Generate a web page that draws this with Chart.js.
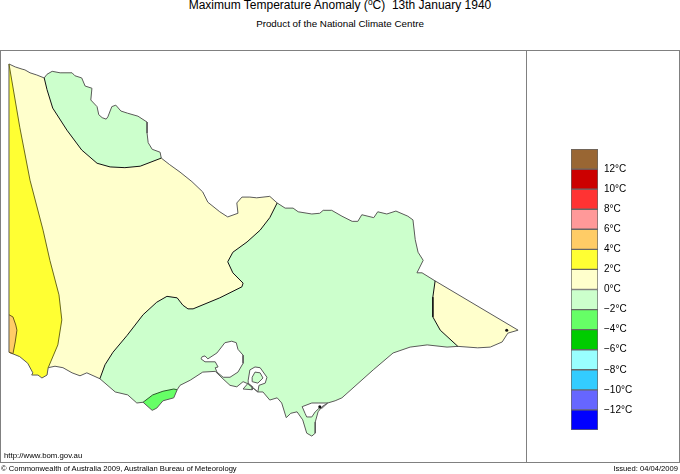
<!DOCTYPE html>
<html>
<head>
<meta charset="utf-8">
<script src="https://cdn.jsdelivr.net/npm/chart.js@4/dist/chart.umd.min.js"></script>
<style>
  html, body { margin: 0; padding: 0; background: #fff; width: 680px; height: 474px; overflow: hidden; }
  body { position: relative; font-family: "Liberation Sans", Arial, sans-serif; color: #000; }
  .txt { position: absolute; white-space: nowrap; line-height: 1; }
  .txt sup { font-size: 70%; line-height: 0; vertical-align: 4px; }
  #frame { position: absolute; left: 0; top: 50px; width: 678px; height: 411px; border: 1px solid #808080; }
  #divider { position: absolute; left: 526px; top: 50px; width: 1px; height: 412px; background: #808080; }
  canvas { position: absolute; }
</style>
</head>
<body>
<div class="txt" style="left:0;width:680px;text-align:center;top:-1px;font-size:12px">Maximum Temperature Anomaly (<sup>o</sup>C)&nbsp; 13th January 1940</div>
<div class="txt" style="left:0;width:680px;text-align:center;top:19px;font-size:9.8px">Product of the National Climate Centre</div>
<div id="frame"></div>
<div id="divider"></div>
<canvas id="mapChart" width="527" height="413" style="left:0;top:50px"></canvas>
<canvas id="keyChart" width="149" height="305" style="left:530px;top:137px"></canvas>
<div class="txt" style="left:4px;top:452px;font-size:7.8px">http://www.bom.gov.au</div>
<div class="txt" style="left:1px;top:465px;font-size:7.6px">© Commonwealth of Australia 2009, Australian Bureau of Meteorology</div>
<div class="txt" style="right:2px;top:465px;font-size:7.6px">Issued: 04/04/2009</div>
<script>
// Outline of the state, [lon, lat], cut where the anomaly contours meet it
const borderNorthWest = [[141.00,-34.00],[141.11,-34.04],[141.23,-34.07],[141.28,-34.08],[141.37,-34.12],[141.49,-34.15],[141.62,-34.19]];
const borderMallee = [[141.62,-34.19],[141.67,-34.14],[141.76,-34.10],[141.90,-34.12],[142.11,-34.12],[142.16,-34.16],[142.28,-34.19],[142.34,-34.30],[142.46,-34.33],[142.44,-34.49],[142.55,-34.58],[142.58,-34.69],[142.64,-34.73],[142.71,-34.75],[142.74,-34.72],[142.81,-34.58],[142.88,-34.56],[142.97,-34.64],[143.09,-34.67],[143.27,-34.71],[143.43,-34.79],[143.43,-34.94],[143.45,-35.07],[143.52,-35.16],[143.66,-35.20],[143.68,-35.28]];
const borderMurray = [[143.68,-35.28],[143.83,-35.37],[144.01,-35.47],[144.22,-35.60],[144.41,-35.74],[144.50,-35.88],[144.71,-36.01],[144.85,-36.08],[145.03,-36.03],[145.01,-35.89],[145.10,-35.81],[145.24,-35.81],[145.36,-35.82],[145.59,-35.80],[145.72,-35.89]];
const borderNorthEast = [[145.72,-35.89],[145.86,-35.96],[146.00,-35.96],[146.09,-36.01],[146.33,-36.04],[146.47,-36.03],[146.53,-35.99],[146.68,-35.99],[146.86,-36.07],[147.04,-36.14],[147.14,-36.14],[147.21,-36.05],[147.42,-36.09],[147.49,-36.01],[147.65,-36.04],[147.81,-36.00],[148.02,-36.07],[148.11,-36.12],[148.15,-36.39],[148.20,-36.56],[148.29,-36.67],[148.18,-36.84],[148.27,-36.84],[148.50,-36.95]];
const borderGippsEast = [[148.50,-36.95],[149.96,-37.62],[149.78,-37.66],[149.68,-37.78],[149.47,-37.85],[149.25,-37.86],[148.90,-37.84]];
const coastCentral = [[148.90,-37.84],[148.71,-37.85],[148.36,-37.82],[148.06,-37.85],[147.76,-37.93],[147.41,-38.16],[146.86,-38.54],[146.74,-38.58],[146.61,-38.61],[146.51,-38.66],[146.44,-38.73],[146.39,-38.87],[146.39,-39.02],[146.33,-39.06],[146.24,-39.02],[146.17,-38.84],[146.07,-38.73],[145.96,-38.75],[145.88,-38.81],[145.80,-38.61],[145.72,-38.54],[145.59,-38.57],[145.47,-38.46],[145.38,-38.46],[145.21,-38.35],[145.12,-38.32],[145.01,-38.39],[144.89,-38.37],[144.75,-38.27],[144.63,-38.18],[144.41,-38.19],[144.19,-38.30],[144.01,-38.37],[143.96,-38.43],[143.90,-38.54],[143.71,-38.58],[143.60,-38.68],[143.52,-38.71],[143.36,-38.60],[143.25,-38.61],[143.09,-38.50],[142.87,-38.46],[142.60,-38.28]];
const coastWestern = [[142.60,-38.28],[142.37,-38.20],[142.25,-38.24],[142.11,-38.20],[141.95,-38.13],[141.81,-38.11],[141.69,-38.13]];
const coastPortland = [[141.69,-38.13],[141.67,-38.23],[141.58,-38.27],[141.51,-38.23],[141.40,-38.23],[141.42,-38.20],[141.33,-38.07],[141.19,-37.98],[141.00,-37.92]];

// Anomaly contours
const contourMallee = [[141.62,-34.19],[141.67,-34.35],[141.77,-34.60],[142.02,-34.90],[142.28,-35.17],[142.55,-35.35],[142.78,-35.40],[143.04,-35.41],[143.31,-35.39],[143.68,-35.28]];
const contourCentral = [[145.72,-35.89],[145.59,-36.09],[145.42,-36.26],[145.19,-36.42],[144.94,-36.56],[144.85,-36.69],[144.94,-36.84],[145.12,-36.98],[145.10,-37.03],[144.71,-37.18],[144.24,-37.33],[144.15,-37.33],[144.06,-37.28],[143.96,-37.18],[143.78,-37.16],[143.60,-37.24],[143.36,-37.41],[143.08,-37.69],[142.83,-37.92],[142.69,-38.09],[142.60,-38.28]];
const contourEast = [[148.50,-36.95],[148.46,-37.17],[148.46,-37.44],[148.59,-37.62],[148.90,-37.84]];
const contourWest = [[141.00,-34.00],[141.19,-34.86],[141.37,-35.58],[141.60,-36.26],[141.72,-36.67],[141.88,-37.14],[141.93,-37.48],[141.86,-37.82],[141.69,-38.13]];
const contourPortland = [[141.00,-37.41],[141.07,-37.44],[141.12,-37.55],[141.14,-37.62],[141.11,-37.78],[141.07,-37.94],[141.00,-37.92]];
const contourOtway = [[143.36,-38.60],[143.53,-38.50],[143.71,-38.45],[143.90,-38.42],[143.96,-38.43]];
const coastOtway = [[143.96,-38.43],[143.90,-38.54],[143.71,-38.58],[143.60,-38.68],[143.52,-38.71],[143.36,-38.60]];

// Bays and islands
const portPhillip = [[144.40,-37.98],[144.45,-37.97],[144.50,-38.01],[144.66,-37.93],[144.80,-37.79],[144.92,-37.77],[145.00,-37.79],[145.03,-37.88],[145.12,-37.96],[145.12,-38.07],[145.03,-38.19],[144.89,-38.26],[144.77,-38.26],[144.66,-38.19],[144.63,-38.13],[144.68,-38.12],[144.63,-38.05],[144.45,-38.05],[144.38,-38.01],[144.40,-37.98]];
const westernPort = [[145.21,-38.30],[145.24,-38.16],[145.33,-38.12],[145.42,-38.13],[145.54,-38.26],[145.51,-38.34],[145.40,-38.37],[145.38,-38.46],[145.21,-38.35],[145.21,-38.30]];
const phillipIsland = [[145.12,-38.42],[145.21,-38.34],[145.29,-38.39],[145.28,-38.43],[145.12,-38.42]];
const frenchIsland = [[145.28,-38.26],[145.33,-38.19],[145.42,-38.20],[145.47,-38.27],[145.38,-38.34],[145.28,-38.32],[145.28,-38.26]];
const cornerInlet = [[146.16,-38.66],[146.33,-38.61],[146.44,-38.61],[146.61,-38.61],[146.51,-38.68],[146.46,-38.68],[146.39,-38.73],[146.33,-38.80],[146.24,-38.80],[146.21,-38.75],[146.16,-38.66]];
const smallIslands = [[146.47,-38.66],[149.76,-37.62]];

// Colour key
const keyLow = [12, 10, 8, 6, 4, 2, 0, -2, -4, -6, -8, -10, -12, -14];
const keyColours = ['#996633', '#CC0000', '#FF3333', '#FF9999', '#FFCC66', '#FFFF33', '#FFFFCC', '#CCFFCC', '#66FF66', '#00CC00', '#99FFFF', '#33CCFF', '#6666FF', '#0000FF'];

const CREAM = '#FFFFCC', PALE_GREEN = '#CCFFCC', COAST = '#5a5a5a', CONTOUR = '#111';

function pts(...sections) {
    return sections.flat().map(p => ({ x: p[0], y: p[1] }));
}

function area(colour, ...sections) {
    return { data: pts(...sections), showLine: true, fill: 'shape', backgroundColor: colour, borderColor: colour, borderWidth: 0, pointRadius: 0 };
}

function stroke(colour, width, ...sections) {
    return { data: pts(...sections), showLine: true, fill: false, borderColor: colour, borderWidth: width, pointRadius: 0 };
}

const wholeState = [borderNorthWest, borderMallee, borderMurray, borderNorthEast, borderGippsEast, coastCentral, coastWestern, coastPortland, [borderNorthWest[0]]];

const layers = [
    area(CREAM, ...wholeState),
    area(PALE_GREEN, borderMallee, contourMallee.slice().reverse()),
    area(PALE_GREEN, borderNorthEast, contourEast, coastCentral, contourCentral.slice().reverse()),
    area('#FFFF33', contourWest, coastPortland, [borderNorthWest[0]]),
    area('#FFCC66', contourPortland),
    area('#66FF66', contourOtway, coastOtway),
    area('#fff', portPhillip),
    area('#fff', westernPort),
    area('#fff', cornerInlet),
    area(PALE_GREEN, phillipIsland),
    area(PALE_GREEN, frenchIsland),
    stroke(COAST, 1, ...wholeState),
    stroke(COAST, 1, portPhillip),
    stroke(COAST, 1, westernPort),
    stroke(COAST, 1, cornerInlet),
    stroke(COAST, 1, phillipIsland),
    stroke(COAST, 1, frenchIsland),
    stroke(CONTOUR, 1, contourMallee),
    stroke(CONTOUR, 1, contourCentral),
    stroke(CONTOUR, 1, contourEast),
    stroke('#6b6b1a', 1, contourWest),
    stroke('#6b5a1a', 1, contourPortland),
    stroke('#2b5a2b', 1, contourOtway),
    { data: pts(smallIslands), pointRadius: 1.5, pointBackgroundColor: '#111', pointBorderWidth: 0 }
];
// lower order is painted later
layers.forEach((d, i) => { d.order = -i; });

new Chart(document.getElementById('mapChart'), {
    type: 'scatter',
    data: { datasets: layers },
    options: {
        responsive: false,
        animation: false,
        layout: { padding: 0, autoPadding: false },
        plugins: { legend: { display: false }, tooltip: { enabled: false } },
        scales: {
            x: { type: 'linear', display: false, min: 140.842, max: 150.117 },
            y: { type: 'linear', display: false, min: -39.426, max: -33.81 }
        }
    }
});

new Chart(document.getElementById('keyChart'), {
    type: 'bar',
    data: {
        labels: [''],
        datasets: keyLow.map((low, i) => ({
            data: [[low, low + 2]],
            backgroundColor: keyColours[i],
            borderColor: '#666',
            borderWidth: 1,
            borderSkipped: false,
            barPercentage: 1,
            categoryPercentage: 1
        }))
    },
    options: {
        responsive: false,
        animation: false,
        layout: { padding: { left: 41, top: 6, bottom: 9, right: 0 }, autoPadding: false },
        plugins: { legend: { display: false }, tooltip: { enabled: false } },
        scales: {
            x: { display: false, stacked: true },
            y: {
                position: 'right',
                min: -14,
                max: 14,
                afterFit: s => { s.width = 81; },
                grid: { display: false, drawTicks: false },
                border: { display: false },
                ticks: {
                    stepSize: 2,
                    padding: 6,
                    color: '#000',
                    font: { family: '"Liberation Sans"', size: 10 },
                    callback: v => (Math.abs(v) === 14 ? '' : String(v).replace('-', '\u2212') + '\u00B0C')
                }
            }
        }
    }
});
</script>
</body>
</html>
